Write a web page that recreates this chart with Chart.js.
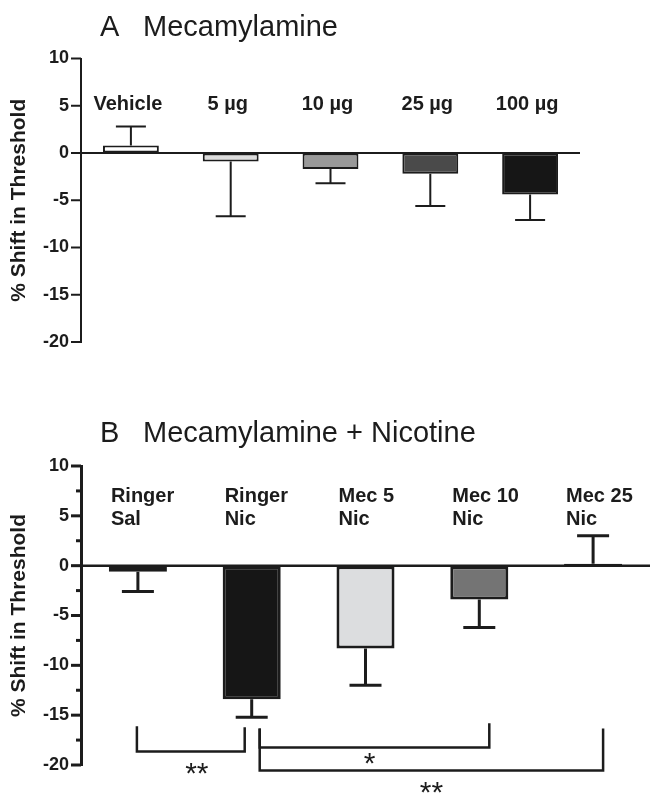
<!DOCTYPE html>
<html>
<head>
<meta charset="utf-8">
<script src="https://cdn.jsdelivr.net/npm/chart.js@4.4.1/dist/chart.umd.min.js"></script>
<style>
  html, body { margin: 0; padding: 0; background: #fff; }
  .panel { position: absolute; left: 0; width: 650px; }
  #panelA { top: 0; height: 390px; }
  #panelB { top: 390px; height: 405px; }
</style>
</head>
<body>
<div class="panel" id="panelA"><canvas id="chartA"></canvas></div>
<div class="panel" id="panelB"><canvas id="chartB"></canvas></div>
<script>
// y axis range shared by both panels
const yMin = -20;
const yMax = 10;
const yStep = 2.5;        // minor ticks, labels every 5
const yTitle = '% Shift in Threshold';

// Panel A - mecamylamine alone
const doseLabels = ['Vehicle', '5 µg', '10 µg', '25 µg', '100 µg'];
const doseShift = [0.8, -0.9, -1.7, -2.2, -4.4];
const doseSem = [2.0, 5.8, 1.5, 3.4, 2.7];
const doseColors = ['#ffffff', '#dcdcdc', '#999999', '#4a4a4a', '#161616'];

// Panel B - mecamylamine + nicotine
const comboLabels = [['Ringer', 'Sal'], ['Ringer', 'Nic'], ['Mec 5', 'Nic'], ['Mec 10', 'Nic'], ['Mec 25', 'Nic']];
const comboShift = [-0.6, -13.4, -8.3, -3.4, 0.2];
const comboSem = [2.0, 1.8, 3.7, 2.8, 2.8];
const comboColors = ['#ffffff', '#161616', '#dcdddf', '#747474', '#ffffff'];

// significance comparisons in panel B (category indexes)
const comparisons = [
  { from: 0, to: 1, stars: '**' },
  { from: 1, to: 3, stars: '*' },
  { from: 1, to: 4, stars: '**' }
];
// how each bracket is drawn: pixel nudges on x, levels in axis units
const bracketStyle = [
  { dx0: -1, dx1: -7, top0: -16.1, top1: -16.2, bar: -18.65, star: -20.95, starDx: 6 },
  { dx0: 8, dx1: 10, top0: -16.35, top1: -15.8, bar: -18.25, star: -20.0, starDx: -5 },
  { dx0: 8, dx1: 10, top0: -16.35, top1: -16.35, bar: -20.55, star: -22.9, starDx: 0 }
];

const INK = '#1c1c1c';
const FONT = '"Liberation Sans", Arial, Helvetica, sans-serif';

function panelPlugin(p) {
  return {
    id: 'panel' + p.letter,
    afterDraw(chart) {
      const ctx = chart.ctx;
      const { left, right } = chart.chartArea;
      const x = chart.scales.x;
      const y = chart.scales.y;
      const meta = chart.getDatasetMeta(0);
      ctx.save();
      ctx.strokeStyle = INK;
      ctx.fillStyle = INK;
      ctx.lineCap = 'butt';

      // tick marks, long on labelled values
      ctx.lineWidth = p.axisWidth;
      y.ticks.forEach(t => {
        const py = y.getPixelForValue(t.value);
        const len = t.value % 5 === 0 ? 10 : 5;
        ctx.beginPath();
        ctx.moveTo(left - len, py);
        ctx.lineTo(left, py);
        ctx.stroke();
      });

      // zero line
      const zy = y.getPixelForValue(0);
      ctx.lineWidth = p.zeroWidth;
      ctx.beginPath();
      ctx.moveTo(left, zy);
      ctx.lineTo(right, zy);
      ctx.stroke();

      // error bars, away from zero
      ctx.lineWidth = p.errWidth;
      p.means.forEach((m, i) => {
        const px = meta.data[i].x;
        const dir = m >= 0 ? 1 : -1;
        const y0 = y.getPixelForValue(m);
        const y1 = y.getPixelForValue(m + dir * p.sem[i]);
        ctx.beginPath();
        ctx.moveTo(px, y0);
        ctx.lineTo(px, y1);
        ctx.moveTo(px - p.cap / 2, y1);
        ctx.lineTo(px + p.cap / 2, y1);
        ctx.stroke();
      });

      // category labels inside the plot
      ctx.font = 'bold 20px ' + FONT;
      ctx.textBaseline = 'middle';
      p.labels.forEach((lab, i) => {
        const bar = meta.data[i];
        if (Array.isArray(lab)) {
          ctx.textAlign = 'left';
          lab.forEach((line, k) => {
            ctx.fillText(line, bar.x - bar.width / 2 + 2, y.getPixelForValue(p.labelAt[k]));
          });
        } else {
          ctx.textAlign = 'center';
          ctx.fillText(lab, bar.x - 3, y.getPixelForValue(p.labelAt[0]));
        }
      });

      // panel title
      ctx.font = '29px ' + FONT;
      ctx.textAlign = 'left';
      ctx.textBaseline = 'alphabetic';
      ctx.fillText(p.letter, 100, p.titleBase);
      ctx.fillText(p.title, 143, p.titleBase);

      // significance brackets
      if (p.brackets) {
        ctx.lineWidth = 2.5;
        p.brackets.forEach((c, i) => {
          const s = bracketStyle[i];
          const xa = x.getPixelForValue(c.from) + s.dx0;
          const xb = x.getPixelForValue(c.to) + s.dx1;
          const yb = y.getPixelForValue(s.bar);
          ctx.beginPath();
          ctx.moveTo(xa, y.getPixelForValue(s.top0));
          ctx.lineTo(xa, yb);
          ctx.lineTo(xb, yb);
          ctx.lineTo(xb, y.getPixelForValue(s.top1));
          ctx.stroke();
          ctx.font = '30px ' + FONT;
          ctx.textAlign = 'center';
          ctx.textBaseline = 'middle';
          ctx.fillText(c.stars, (xa + xb) / 2 + s.starDx, y.getPixelForValue(s.star));
        });
      }
      ctx.restore();
    }
  };
}

function makeChart(id, p) {
  new Chart(document.getElementById(id), {
    type: 'bar',
    data: {
      labels: p.labels.map(l => Array.isArray(l) ? l.join(' ') : l),
      datasets: [{
        data: p.means,
        backgroundColor: p.colors,
        borderColor: INK,
        borderWidth: p.barBorder,
        borderSkipped: false,
        barPercentage: p.barPct,
        categoryPercentage: 1
      }]
    },
    options: {
      responsive: true,
      maintainAspectRatio: false,
      animation: false,
      layout: { padding: p.padding },
      plugins: { legend: { display: false }, tooltip: { enabled: false } },
      scales: {
        x: { display: false },
        y: {
          min: yMin,
          max: yMax,
          afterFit(s) { s.width = 81; s.paddingTop = 0; s.paddingBottom = 0; },
          border: { display: true, color: INK, width: p.axisWidth },
          grid: { display: true, drawOnChartArea: false, drawTicks: false },
          ticks: {
            stepSize: yStep,
            padding: 12,
            color: INK,
            font: { family: FONT, size: 18, weight: 'bold' },
            callback: v => (v % 5 === 0 ? String(v) : '')
          },
          title: {
            display: true,
            text: yTitle,
            color: INK,
            font: { family: FONT, size: 21, weight: 'bold' },
            padding: { top: 7, bottom: 0 }
          }
        }
      }
    },
    plugins: [panelPlugin(p)]
  });
}

makeChart('chartA', {
  letter: 'A', title: 'Mecamylamine', titleBase: 36,
  labels: doseLabels, means: doseShift, sem: doseSem, colors: doseColors,
  labelAt: [5.1],
  padding: { top: 58.5, right: 70, bottom: 48, left: 0 },
  barPct: 0.56, barBorder: 2, axisWidth: 2, zeroWidth: 2, errWidth: 2, cap: 30
});

makeChart('chartB', {
  letter: 'B', title: 'Mecamylamine + Nicotine', titleBase: 52,
  labels: comboLabels, means: comboShift, sem: comboSem, colors: comboColors,
  labelAt: [6.9, 4.6],
  brackets: comparisons,
  padding: { top: 76, right: 0, bottom: 30, left: 0 },
  barPct: 0.51, barBorder: 3, axisWidth: 3, zeroWidth: 2.5, errWidth: 3, cap: 32
});
</script>
</body>
</html>
